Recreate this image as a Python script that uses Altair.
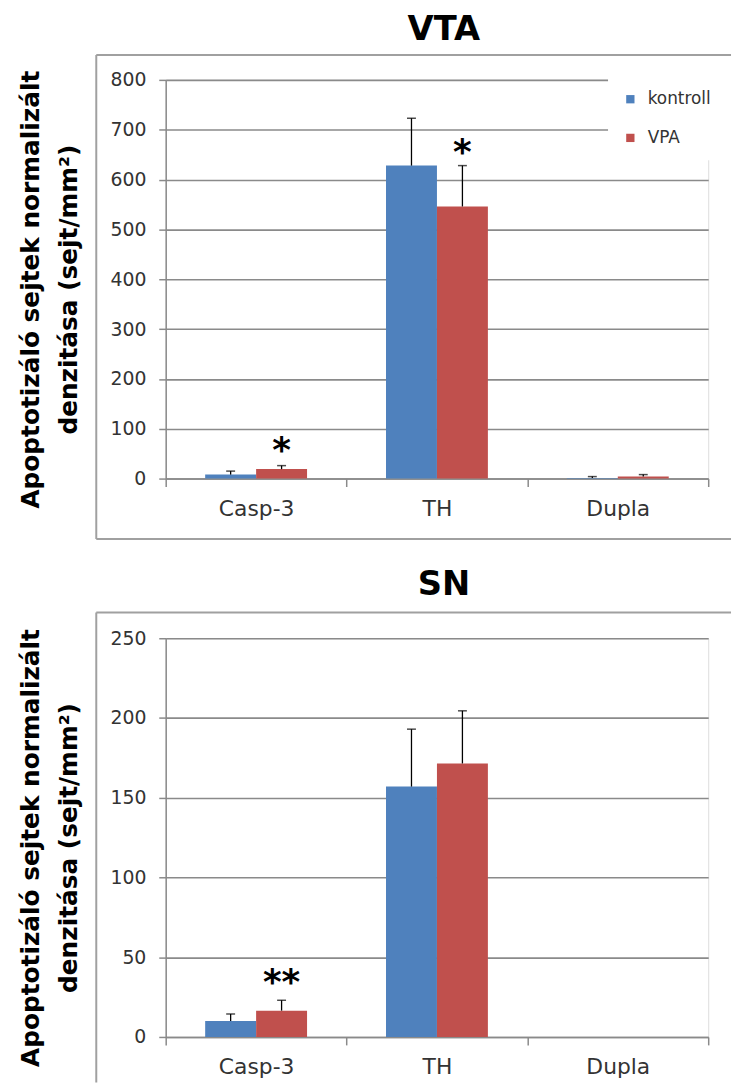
import altair as alt
import pandas as pd

categories = ["Casp-3", "TH", "Dupla"]
groups = ["kontroll", "VPA"]
colors = ["#4F81BD", "#C0504D"]

# VTA panel values (sejt/mm2)
vta_kontroll = [8, 628, 1]
vta_kontroll_err = [7, 95, 3]
vta_vpa = [19, 546, 4]
vta_vpa_err = [7, 82, 4]
vta_sig_cat = ["Casp-3", "TH"]
vta_sig_text = ["*", "*"]
vta_sig_y = [56, 654]

# SN panel values
sn_kontroll = [10, 157, 0]
sn_kontroll_err = [4.4, 36, 0]
sn_vpa = [16.5, 171.5, 0]
sn_vpa_err = [6.5, 33, 0]
sn_sig_cat = ["Casp-3"]
sn_sig_text = ["**"]
sn_sig_y = [34]

y_title = ["Apoptotizáló sejtek normalizált", "denzitása (sejt/mm²)"]

W = 547
H = 402
GRAY = "#8a8a8a"
FONT = "DejaVu Sans"


def panel(title, kon, kon_err, vpa, vpa_err, sig_cat, sig_text, sig_y,
          ymax, ystep, show_legend, box_top, box_bottom, title_offset):
    rows = []
    for i, c in enumerate(categories):
        rows.append({"kategoria": c, "csoport": "kontroll", "ertek": kon[i], "hiba": kon_err[i]})
        rows.append({"kategoria": c, "csoport": "VPA", "ertek": vpa[i], "hiba": vpa_err[i]})
    df = pd.DataFrame(rows)
    df["felso"] = df["ertek"] + df["hiba"]
    err_df = df[df["hiba"] > 0]
    ann = pd.DataFrame({"kategoria": sig_cat, "csoport": ["VPA"] * len(sig_cat),
                        "szoveg": sig_text, "y": sig_y})

    yscale = alt.Scale(domain=[0, ymax], nice=False)
    xscale = alt.Scale(paddingInner=0, paddingOuter=0)
    xoscale = alt.Scale(paddingInner=0, paddingOuter=0.775)

    x_axis = alt.Axis(title=None, tickBand="extent", tickSize=8, tickColor=GRAY,
                      tickWidth=1.5, domainColor=GRAY, domainWidth=1.5,
                      labelFont=FONT, labelFontSize=22, labelColor="#333333",
                      labelPadding=12, labelAngle=0, grid=False)
    y_axis = alt.Axis(title=y_title, values=list(range(0, ymax + 1, ystep)),
                      grid=True, gridColor=GRAY, gridWidth=1.6,
                      domainColor=GRAY, domainWidth=1.5, tickColor=GRAY,
                      tickWidth=1.5, tickSize=7,
                      labelFont=FONT, labelFontSize=19, labelColor="#333333",
                      labelPadding=13,
                      titleFont=FONT, titleFontSize=25, titleFontWeight="bold",
                      titleColor="black", titleLineHeight=38, titlePadding=29,
                      titleY=H / 2 + 10)

    legend = alt.Legend(title=None, orient="none", legendX=446, legendY=-3,
                        fillColor="white", padding=14, symbolType="square",
                        symbolSize=70, symbolStrokeWidth=0, labelFont=FONT,
                        labelFontSize=17, labelColor="#333333", rowPadding=21,
                        labelOffset=9) if show_legend else None

    base = alt.Chart(df)
    bars = base.mark_bar().encode(
        x=alt.X("kategoria:N", sort=categories, scale=xscale, axis=x_axis),
        xOffset=alt.XOffset("csoport:N", sort=groups, scale=xoscale),
        y=alt.Y("ertek:Q", scale=yscale, axis=y_axis),
        color=alt.Color("csoport:N", sort=groups,
                        scale=alt.Scale(domain=groups, range=colors),
                        legend=legend),
    )
    enc = dict(
        x=alt.X("kategoria:N", sort=categories),
        xOffset=alt.XOffset("csoport:N", sort=groups),
    )
    err = alt.Chart(err_df).mark_rule(color="black", strokeWidth=1.3).encode(
        y="ertek:Q", y2="felso:Q", **enc)
    caps = alt.Chart(err_df).mark_tick(color="black", thickness=1.5, size=9).encode(
        y="felso:Q", **enc)
    stars = alt.Chart(ann).mark_text(font=FONT, fontWeight="bold", fontSize=36,
                                     baseline="middle", color="black").encode(
        y="y:Q", text="szoveg:N", **enc)

    box_data = pd.DataFrame({"k": [0]})
    bx = alt.Chart(box_data)
    box_style = dict(color="#a0a0a0", strokeWidth=2)
    right = 570
    box = [
        bx.mark_rule(**box_style).encode(x=alt.value(-70), x2=alt.value(right),
                                         y=alt.value(box_top)),
    ]
    if box_bottom is not None:
        box.append(bx.mark_rule(**box_style).encode(
            x=alt.value(-70), x2=alt.value(right), y=alt.value(box_bottom)))
        box.append(bx.mark_rule(**box_style).encode(
            x=alt.value(-70), y=alt.value(box_top), y2=alt.value(box_bottom)))
    else:
        box.append(bx.mark_rule(**box_style).encode(
            x=alt.value(-70), y=alt.value(box_top), y2=alt.value(H + 46)))

    ch = alt.layer(*box, bars, err, caps, stars).properties(
        width=W, height=H,
        title=alt.TitleParams(text=title, font=FONT, fontSize=34, fontWeight="bold",
                              color="black", anchor="middle", offset=title_offset,
                              dx=7),
    )
    return ch


vta = panel("VTA", vta_kontroll, vta_kontroll_err, vta_vpa, vta_vpa_err,
            vta_sig_cat, vta_sig_text, vta_sig_y, 800, 100, True, -25, H + 61, 7)
sn = panel("SN", sn_kontroll, sn_kontroll_err, sn_vpa, sn_vpa_err,
           sn_sig_cat, sn_sig_text, sn_sig_y, 250, 50, False, -26, None, 10)

chart = alt.vconcat(vta, sn, spacing=26).resolve_legend(color="independent").properties(
    padding={"left": 10, "top": 0, "right": 0, "bottom": 0}
).configure_view(stroke=None).configure(background="white")

chart.save("out.html", embed_options={"renderer": "svg", "actions": False})
